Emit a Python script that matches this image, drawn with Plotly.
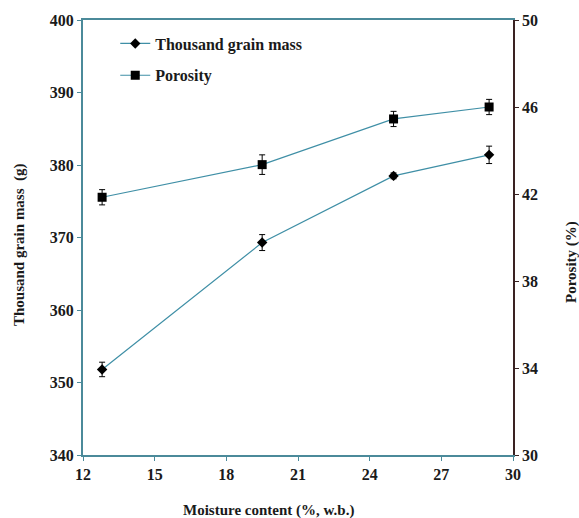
import plotly.graph_objects as go

moisture = [12.8, 19.5, 25.0, 29.0]
grain_mass = [351.8, 369.3, 378.5, 381.4]
grain_mass_err = [1.0, 1.1, 0.4, 1.2]
porosity = [41.85, 43.35, 45.45, 46.0]
porosity_err = [0.35, 0.45, 0.35, 0.35]

x_ticks = [12, 15, 18, 21, 24, 27, 30]
y1_ticks = [340, 350, 360, 370, 380, 390, 400]
y2_ticks = [30, 34, 38, 42, 46, 50]

FONT = "Liberation Serif"
LINE = "#3f8fa6"
AX = "#4b8a9a"
AX_R = "#3a2222"
TXT = "#1a1a1a"

fig = go.Figure()
fig.add_trace(go.Scatter(
    x=moisture, y=grain_mass, name="Thousand grain mass", legendgroup="a",
    mode="lines+markers",
    line=dict(color=LINE, width=1.2),
    marker=dict(symbol="diamond", size=8, color="black"),
    error_y=dict(type="data", array=grain_mass_err, color="black", thickness=1, width=3),
))
fig.add_trace(go.Scatter(
    x=moisture, y=porosity, name="Porosity", yaxis="y2", legendgroup="b",
    mode="lines+markers",
    line=dict(color=LINE, width=1.2),
    marker=dict(symbol="square", size=9, color="black"),
    error_y=dict(type="data", array=porosity_err, color="black", thickness=1, width=3),
))

tickfont = dict(family=FONT, size=16, color=TXT, weight="bold")
titlefont = dict(family=FONT, size=15, color=TXT, weight="bold")

fig.update_layout(
    width=579, height=518,
    margin=dict(l=83, r=66, t=20, b=63),
    paper_bgcolor="white", plot_bgcolor="white",
    showlegend=True,
    legend=dict(x=0.075, y=0.985, xanchor="left", yanchor="top",
                bgcolor="rgba(0,0,0,0)", font=dict(family=FONT, size=16, color=TXT, weight="bold"),
                tracegroupgap=8, itemwidth=30),
    xaxis=dict(range=[12, 30], tickvals=x_ticks, ticktext=[str(v) for v in x_ticks],
               showgrid=False, zeroline=False, showline=True, linecolor=AX, linewidth=2,
               mirror=True, ticks="outside", ticklen=4, tickcolor=AX, tickfont=tickfont),
    yaxis=dict(range=[340, 400], tickvals=y1_ticks, ticktext=[str(v) for v in y1_ticks],
               showgrid=False, zeroline=False, showline=True, linecolor=AX, linewidth=2,
               ticks="outside", ticklen=4, tickcolor=AX, tickfont=tickfont),
    yaxis2=dict(range=[30, 50], tickvals=y2_ticks, ticktext=[str(v) for v in y2_ticks],
                overlaying="y", side="right",
                showgrid=False, zeroline=False, showline=True, linecolor=AX_R, linewidth=1.5,
                ticks="outside", ticklen=4, tickcolor=AX_R, tickfont=tickfont),
    annotations=[
        dict(text="Moisture content (%, w.b.)", xref="paper", yref="paper",
             x=(268 - 83) / 430, y=-(510 - 455) / 435, showarrow=False,
             xanchor="center", yanchor="middle", font=titlefont),
        dict(text="Thousand grain mass  (g)", xref="paper", yref="paper",
             x=-(83 - 20) / 430, y=(455 - 245) / 435, showarrow=False, textangle=-90,
             xanchor="center", yanchor="middle", font=titlefont),
        dict(text="Porosity (%)", xref="paper", yref="paper",
             x=(571 - 83) / 430, y=(455 - 262) / 435, showarrow=False, textangle=-90,
             xanchor="center", yanchor="middle", font=titlefont),
    ],
)

fig.write_html("out.html", config={"displayModeBar": False},
               post_script="document.body.style.margin='0';document.body.style.overflow='hidden';")
